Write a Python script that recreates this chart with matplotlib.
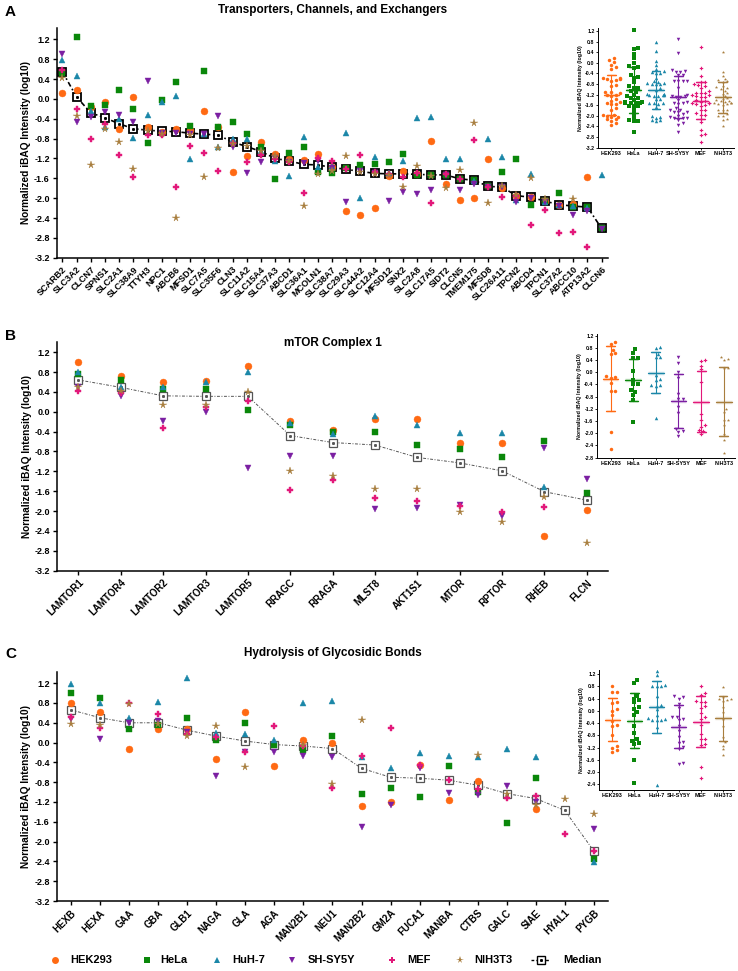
import numpy as np
import matplotlib
matplotlib.use("Agg")
import matplotlib.pyplot as plt
from matplotlib.lines import Line2D

nan = np.nan

cell_lines = ['HEK293', 'HeLa', 'HuH-7', 'SH-SY5Y', 'MEF', 'NIH3T3']
colors = ['#FF6A13', '#0A870A', '#1B87A8', '#7B1FA2', '#E2187A', '#A87E3E']
markers = ['o', 's', '^', 'v', 'P', '*']
msizes = [5.0, 4.6, 5.0, 5.0, 4.6, 5.6]

# ---- A: Transporters, Channels, and Exchangers
a_genes = ['SCARB2', 'SLC3A2', 'CLCN7', 'SPNS1', 'SLC2A1', 'SLC38A9', 'TTYH3', 'NPC1',
           'ABCB6', 'MFSD1', 'SLC7A5', 'SLC35F6', 'CLN3', 'SLC11A2', 'SLC15A4', 'SLC37A3',
           'ABCD1', 'SLC36A1', 'MCOLN1', 'SLC38A7', 'SLC29A3', 'SLC44A2', 'SLC12A4',
           'MFSD12', 'SNX2', 'SLC2A8', 'SLC17A5', 'SIDT2', 'CLCN5', 'TMEM175', 'MFSD8',
           'SLC26A11', 'TPCN2', 'ABCD4', 'TPCN1', 'SLC37A2', 'ABCC10', 'ATP13A2', 'CLCN6']
a_hek = [0.11, 0.19, -0.17, -0.07, -0.60, 0.03, -0.56, -0.67, -0.61, -0.63, -0.24, -0.56,
         -1.47, -1.14, -0.86, -1.11, -1.22, -1.24, -1.11, -1.38, -2.25, -2.33, -2.19, -1.55,
         -1.45, -1.52, -0.84, -1.72, -2.04, -1.99, -1.21, -1.79, -1.96, -1.98, -2.06, -2.13,
         -2.12, -1.57, nan]
a_hela = [0.52, 1.24, -0.15, -0.12, 0.18, -0.20, -0.88, -0.02, 0.34, -0.54, 0.57, -0.56,
          -0.47, -0.71, -0.96, -1.61, -1.08, -0.96, -1.48, -1.50, -1.40, -1.34, -1.31, -1.27,
          -1.10, -1.53, -1.53, -1.53, -1.62, -1.64, -1.76, -1.47, -1.21, -2.14, -2.06, -1.89,
          -2.18, -2.18, -2.61]
a_huh7 = [0.79, 0.46, -0.25, -0.56, -0.40, -0.78, -0.32, -0.07, 0.06, -1.21, -0.71, -0.96,
          -0.81, -0.81, -1.04, -1.26, -1.55, -0.76, -1.38, -1.36, -0.68, -2.00, -1.18, -1.50,
          -1.25, -0.38, -0.36, -1.21, -1.21, -1.66, -0.81, -1.18, -2.04, -1.51, -2.07, -2.14,
          -2.16, -2.20, -1.53]
a_shsy5y = [0.91, -0.46, -0.36, -0.26, -0.32, -0.46, 0.36, -0.68, -0.69, -0.70, -0.70, -0.34,
            -0.96, -1.50, -1.28, -1.20, -1.27, -1.30, -1.25, -1.40, -2.08, -1.46, -1.50, -2.06,
            -1.87, -1.92, -1.84, -1.54, -1.84, -1.72, -1.78, -1.78, -2.07, -2.00, -2.08, -2.15,
            -2.33, -2.26, -2.62]
a_mef = [0.58, -0.21, -0.81, -0.50, -1.13, -1.57, -0.72, -0.73, -1.78, -0.94, -1.08, -1.45,
         -0.88, -1.28, -1.12, -1.22, -1.28, -1.90, -1.20, -1.26, -1.42, -1.12, -1.47, -1.52,
         -1.58, -1.50, -2.10, -1.52, -1.61, -0.83, -1.77, -1.98, -1.95, -2.55, -2.24, -2.71,
         -2.69, -2.99, nan]
a_nih3t3 = [0.42, -0.34, -1.34, -0.61, -0.86, -1.41, -0.65, -0.70, -2.39, -0.72, -1.57, -0.98,
            -0.90, -0.95, -1.05, -1.16, -1.25, -2.15, -1.52, -1.45, -1.15, -1.48, -1.52, -1.53,
            -1.77, -1.36, -1.55, -1.79, -1.43, -0.49, -2.10, -1.76, -1.94, -1.59, -2.02, nan,
            -2.02, nan, nan]
a_median = [0.55, 0.04, -0.28, -0.38, -0.50, -0.60, -0.63, -0.65, -0.66, -0.69, -0.71, -0.73,
            -0.87, -0.96, -1.06, -1.20, -1.25, -1.32, -1.33, -1.38, -1.42, -1.46, -1.50, -1.51,
            -1.51, -1.52, -1.53, -1.53, -1.61, -1.64, -1.76, -1.78, -1.95, -1.98, -2.06, -2.13,
            -2.16, -2.18, -2.61]

# ---- B: mTOR Complex 1
b_genes = ['LAMTOR1', 'LAMTOR4', 'LAMTOR2', 'LAMTOR3', 'LAMTOR5', 'RRAGC', 'RRAGA', 'MLST8',
           'AKT1S1', 'MTOR', 'RPTOR', 'RHEB', 'FLCN']
b_hek = [1.00, 0.71, 0.60, 0.62, 0.92, -0.19, -0.37, -0.14, -0.15, -0.62, -0.62, -2.51, -1.97]
b_hela = [0.75, 0.64, 0.45, 0.45, 0.03, -0.26, -0.40, -0.40, -0.66, -0.75, -0.91, -0.58, -1.64]
b_huh7 = [0.79, 0.50, 0.50, 0.60, 0.81, -0.23, -0.45, -0.09, -0.26, -0.42, -0.42, -1.51, nan]
b_shsy5y = [0.50, 0.31, -0.19, -0.01, -1.13, -0.89, -0.89, -1.96, -1.94, -1.87, -2.09, -0.73, -1.35]
b_mef = [0.41, 0.38, -0.32, 0.09, 0.21, -1.57, -1.37, -1.74, -1.80, -1.89, -2.01, -1.91, nan]
b_nih3t3 = [0.50, 0.42, 0.13, 0.14, 0.40, -1.19, -1.30, -1.55, -1.55, -2.01, -2.21, -1.72, -2.64]
b_median = [0.64, 0.49, 0.32, 0.31, 0.31, -0.48, -0.62, -0.67, -0.92, -1.03, -1.19, -1.61, -1.78]

# ---- C: Hydrolysis of Glycosidic Bonds
c_genes = ['HEXB', 'HEXA', 'GAA', 'GBA', 'GLB1', 'NAGA', 'GLA', 'AGA', 'MAN2B1', 'NEU1',
           'MAN2B2', 'GM2A', 'FUCA1', 'MANBA', 'CTBS', 'GALC', 'SIAE', 'HYAL1', 'PYGB']
c_hek = [0.80, 0.62, -0.13, 0.28, 0.27, -0.34, 0.62, -0.48, 0.06, 0.00, -1.28, -1.21, -0.46,
         -1.16, -0.78, nan, -1.34, nan, nan]
c_hela = [1.00, 0.90, 0.28, 0.36, 0.50, 0.06, 0.40, -0.04, -0.15, 0.13, -1.04, -0.91, -1.09,
          -0.48, -0.99, -1.62, -0.72, nan, -2.35]
c_huh7 = [1.19, 0.80, 0.50, 0.83, 1.31, 0.19, 0.17, 0.05, 0.80, 0.85, -0.30, -0.52, -0.22,
          -0.27, -0.30, -0.12, -0.30, nan, -2.41]
c_shsy5y = [0.48, 0.08, 0.40, 0.44, 0.22, -0.67, -0.19, -0.20, -0.27, -0.29, -1.70, -1.26,
            -0.51, -1.01, -1.05, -0.87, -1.19, nan, -1.74]
c_mef = [0.52, 0.30, 0.80, 0.58, 0.17, 0.11, -0.19, 0.34, -0.07, -0.91, -0.27, 0.29, -0.45,
         -0.76, -0.93, -1.11, -1.07, -1.84, -2.19]
c_nih3t3 = [0.38, 0.36, 0.77, 0.38, 0.13, 0.33, -0.49, nan, -0.05, -0.84, 0.46, nan, nan, nan,
            -0.26, -1.03, -1.26, -1.14, -1.45]
c_median = [0.66, 0.50, 0.40, 0.40, 0.25, 0.13, 0.03, -0.04, -0.07, -0.12, -0.52, -0.70, -0.72,
            -0.76, -0.86, -1.03, -1.13, -1.37, -2.19]

plt.rcParams['font.family'] = ['Liberation Sans', 'DejaVu Sans']
plt.rcParams['font.weight'] = 'bold'

W, H = 738, 971
fig = plt.figure(figsize=(W / 100, H / 100), dpi=100)


def add_ax(x0, y0, x1, y1):
    return fig.add_axes([x0 / W, 1 - y1 / H, (x1 - x0) / W, (y1 - y0) / H])


def yticks_fmt(ax, lo, hi, fs):
    t = np.round(np.arange(lo, hi + 0.01, 0.4), 1) + 0.0
    ax.set_yticks(t)
    ax.set_yticklabels([f'{v:.1f}' for v in t], fontsize=fs, fontweight='bold')


def draw_main(ax, genes, series, median, dark, xlim, ytop, xfs):
    x = np.arange(len(genes))
    mcol = 'black' if dark else '#555555'
    ax.plot(x, median, color=mcol, lw=1.2 if dark else 0.7, ls=(0, (3, 1.6, 1, 1.6)),
            marker='s', ms=6.2, mfc='white', mec=mcol, mew=1.3 if dark else 0.9, zorder=2)
    ax.plot(x, median, ls='none', marker='s', ms=1.1, color=mcol, zorder=2.1)
    for vals, col, mk, sz in zip(series, colors, markers, msizes):
        ax.plot(x, vals, ls='none', marker=mk, ms=sz, color=col, mec=col, mew=0.3, zorder=3)
    ax.set_xlim(*xlim)
    ax.set_ylim(-3.2, ytop)
    yticks_fmt(ax, -3.2, 1.2, 6.5)
    ax.set_xticks(x)
    ax.set_xticklabels(genes, rotation=45, ha='right', rotation_mode='anchor',
                       fontsize=xfs, fontweight='bold')
    ax.set_ylabel('Normalized iBAQ Intensity (log10)', fontsize=7.3, fontweight='bold', labelpad=2)
    for s in ['top', 'right']:
        ax.spines[s].set_visible(False)
    for s in ['left', 'bottom']:
        ax.spines[s].set_linewidth(1.1)
    ax.tick_params(width=1, length=3, pad=2)


def swarm(vals, dx, dy):
    # deterministic beeswarm offsets so close points sit side by side
    order = np.argsort(vals)
    offs = np.zeros(len(vals))
    placed = []
    for i in order:
        y = vals[i]
        cand = 0.0
        for k in range(40):
            cand = ((k + 1) // 2) * dx * 0.7 * (1 if k % 2 else -1)
            if all(((cand - px) / dx) ** 2 + ((y - py) / dy) ** 2 >= 1 for px, py in placed):
                break
        offs[i] = np.clip(cand, -0.38, 0.38)
        placed.append((cand, y))
    return offs


def draw_inset(ax, series, ylo, yhi, tlo, dy):
    for i, (vals, col, mk) in enumerate(zip(series, colors, markers)):
        v = np.asarray(vals, float)
        v = v[~np.isnan(v)]
        offs = swarm(v, 0.14, dy)
        ax.plot(i + offs, v, ls='none', marker=mk, ms=2.5, color=col, mew=0, zorder=3)
        m, s = v.mean(), v.std(ddof=1)
        ax.plot([i - 0.35, i + 0.35], [m, m], color=col, lw=2.4, alpha=0.3, solid_capstyle='butt')
        ax.plot([i - 0.35, i + 0.35], [m, m], color=col, lw=0.8)
        ax.plot([i, i], [m - s, m + s], color=col, lw=0.8)
        for yy in (m - s, m + s):
            ax.plot([i - 0.2, i + 0.2], [yy, yy], color=col, lw=1.8, alpha=0.3, solid_capstyle='butt')
            ax.plot([i - 0.2, i + 0.2], [yy, yy], color=col, lw=0.8)
    ax.set_xlim(-0.6, 5.5)
    ax.set_ylim(ylo, yhi)
    yticks_fmt(ax, tlo, 1.2, 3.8)
    ax.set_xticks(range(6))
    ax.set_xticklabels(cell_lines, fontsize=4, fontweight='bold')
    ax.set_ylabel('Normalized iBAQ Intensity (log10)', fontsize=3.8, fontweight='bold', labelpad=1.5)
    ax.set_facecolor('none')
    for s in ['top', 'right']:
        ax.spines[s].set_visible(False)
    for s in ['left', 'bottom']:
        ax.spines[s].set_linewidth(0.7)
    ax.tick_params(width=0.6, length=1.5, pad=1)


a_series = [a_hek, a_hela, a_huh7, a_shsy5y, a_mef, a_nih3t3]
b_series = [b_hek, b_hela, b_huh7, b_shsy5y, b_mef, b_nih3t3]
c_series = [c_hek, c_hela, c_huh7, c_shsy5y, c_mef, c_nih3t3]

axA = add_ax(56.7, 28, 608, 257.7)
draw_main(axA, a_genes, a_series, a_median, True, (-0.4, 38.45), 1.43, 6.5)
axB = add_ax(57.3, 341.7, 608, 570.7)
draw_main(axB, b_genes, b_series, b_median, False, (-0.5, 12.5), 1.41, 7)
axC = add_ax(56.7, 672.3, 608.3, 901)
draw_main(axC, c_genes, c_series, c_median, False, (-0.5, 18.5), 1.42, 7)

insA = add_ax(598, 28, 734, 148)
draw_inset(insA, a_series, -3.21, 1.31, -3.2, 0.12)
insB = add_ax(597, 334, 735, 457.7)
draw_inset(insB, b_series, -2.8, 1.25, -2.8, 0.12)
insC = add_ax(599, 670, 734, 790)
draw_inset(insC, c_series, -2.59, 1.34, -2.4, 0.12)

# titles and panel letters
for lab, ty, title, tyc in [('A', 12, 'Transporters, Channels, and Exchangers', 9.5),
                            ('B', 336, 'mTOR Complex 1', 343.3),
                            ('C', 654.5, 'Hydrolysis of Glycosidic Bonds', 652.7)]:
    fig.text(5 / W, 1 - ty / H, lab, fontsize=11, fontweight='bold', ha='left', va='center')
    fig.text(333 / W, 1 - tyc / H, title, fontsize=8.5, fontweight='bold', ha='center', va='center')

# legend
leg_y = 1 - 960 / H
entries = [(55, 70), (147, 160), (217, 232), (292, 308), (392, 407), (460, 474)]
for (mx, tx), lab, col, mk, sz in zip(entries, cell_lines, colors, markers, msizes):
    fig.add_artist(Line2D([mx / W], [leg_y], transform=fig.transFigure, ls='none',
                          marker=mk, ms=sz, color=col, mew=0))
    fig.text(tx / W, leg_y, lab, fontsize=8, fontweight='bold', ha='left', va='center')
fig.add_artist(Line2D([531 / W, 550 / W], [leg_y, leg_y], transform=fig.transFigure,
                      color='black', lw=1.0, ls=(0, (2, 1.5))))
fig.add_artist(Line2D([540.5 / W], [leg_y], transform=fig.transFigure, ls='none', marker='s',
                      ms=5.5, mfc='white', mec='black', mew=1.0))
fig.add_artist(Line2D([540.5 / W], [leg_y], transform=fig.transFigure, ls='none', marker='s',
                      ms=1.1, color='black'))
fig.text(563 / W, leg_y, 'Median', fontsize=8, fontweight='bold', ha='left', va='center')

fig.savefig('out.png', dpi=100)
